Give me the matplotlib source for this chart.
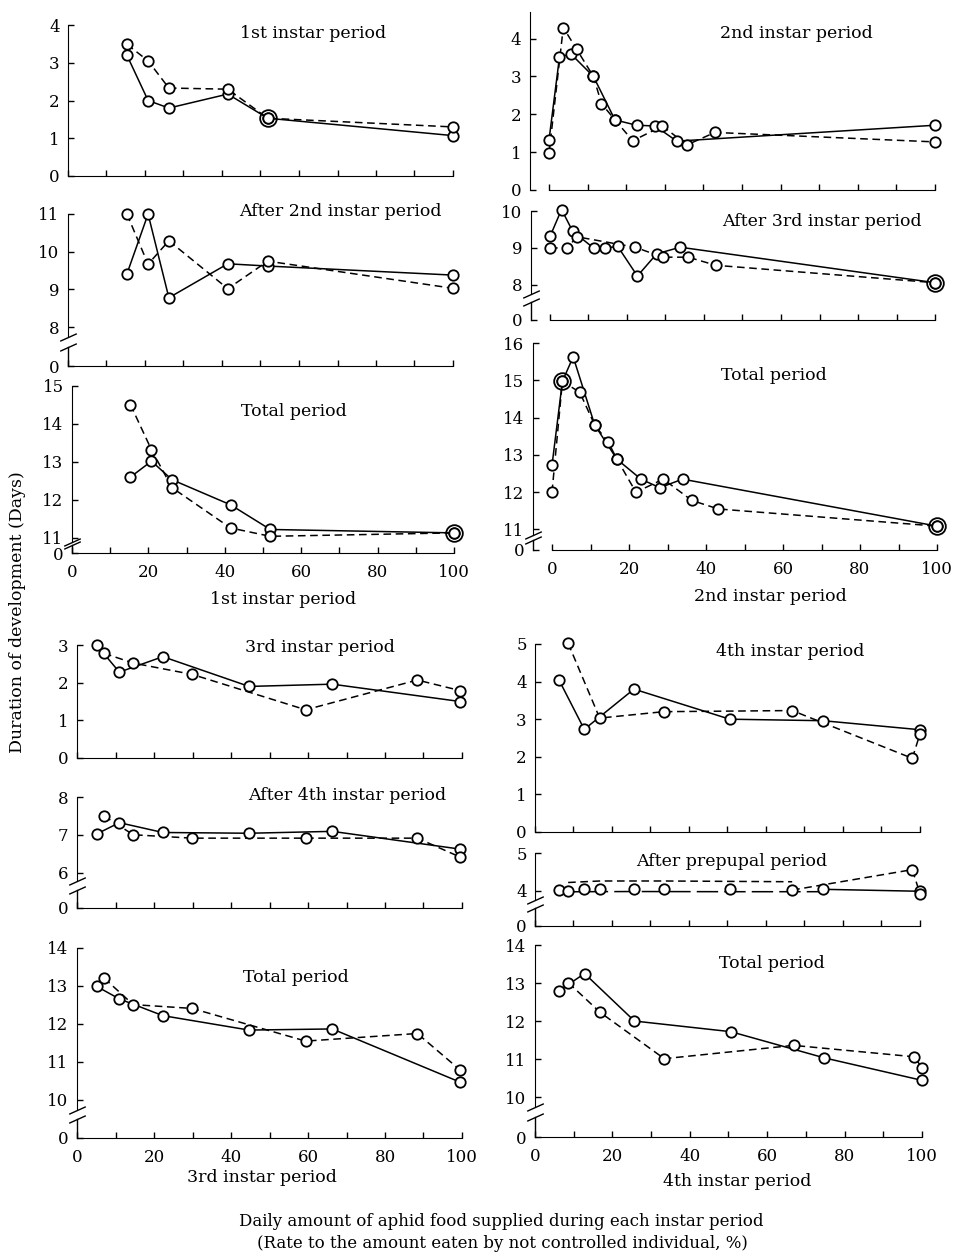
import numpy as np
import matplotlib.pyplot as plt

plt.rcParams['font.family'] = 'DejaVu Serif'
plt.rcParams['font.size'] = 12

# ---- 1st instar feeding ----
in1_x = [15.3, 20.8, 26.2, 41.5, 51.9, 100]
in1_stage_solid = [3.2, 2.0, 1.8, 2.17, 1.53, 1.07]
in1_stage_dash = [3.49, 3.05, 2.33, 2.3, 1.53, 1.3]
in1_stage_shared = [(51.9, 1.53)]
in1_after_solid = [9.41, 11.0, 8.78, 9.68, 9.62, 9.38]
in1_after_dash = [11.0, 9.67, 10.29, 9.02, 9.75, 9.03]
in1_total_solid = [12.6, 13.02, 12.53, 11.87, 11.22, 11.13]
in1_total_dash = [14.51, 13.32, 12.32, 11.26, 11.04, 11.13]
in1_total_shared = [(100, 11.13)]

# ---- 2nd instar feeding ----
in2_stage_x_solid = [0, 2.7, 5.6, 11.5, 17.1, 22.7, 27.5, 33.1, 100]
in2_stage_solid = [1.32, 3.5, 3.6, 3.0, 1.85, 1.71, 1.69, 1.29, 1.71]
in2_stage_x_dash = [0, 3.7, 7.2, 11.5, 13.6, 17.1, 21.7, 29.4, 35.7, 43.0, 100]
in2_stage_dash = [0.97, 4.29, 3.71, 3.0, 2.28, 1.85, 1.3, 1.69, 1.19, 1.52, 1.27]
in2_after_x_solid = [0, 3.0, 5.9, 11.3, 14.3, 17.6, 22.7, 27.7, 33.8, 100]
in2_after_solid = [9.31, 10.04, 9.45, 9.0, 9.0, 9.04, 8.24, 8.84, 9.02, 8.06]
in2_after_x_dash = [0, 4.3, 7.1, 22.1, 29.3, 35.9, 43.1, 100]
in2_after_dash = [9.0, 9.0, 9.3, 9.02, 8.75, 8.75, 8.53, 8.06]
in2_after_shared = [(100, 8.06)]
in2_total_x_solid = [0, 2.7, 5.5, 11.1, 16.9, 23.1, 28.0, 33.9, 100]
in2_total_solid = [12.72, 14.97, 15.63, 13.8, 12.88, 12.35, 12.12, 12.35, 11.09]
in2_total_x_dash = [0, 2.7, 7.2, 11.1, 14.6, 16.9, 21.8, 28.9, 36.3, 43.2, 100]
in2_total_dash = [12.0, 14.97, 14.68, 13.8, 13.34, 12.88, 12.0, 12.35, 11.78, 11.55, 11.09]
in2_total_shared = [(2.7, 14.97), (100, 11.09)]

# ---- 3rd instar feeding ----
in3_x_solid = [5.1, 11.0, 22.3, 44.7, 66.3, 99.5]
in3_x_dash = [7.0, 14.6, 29.9, 59.4, 88.4, 99.5]
in3_stage_solid = [3.0, 2.28, 2.69, 1.9, 1.96, 1.5]
in3_stage_dash = [2.78, 2.52, 2.22, 1.28, 2.07, 1.79]
in3_after_solid = [7.02, 7.32, 7.06, 7.04, 7.09, 6.62]
in3_after_dash = [7.5, 7.0, 6.91, 6.91, 6.91, 6.41]
in3_total_solid = [12.99, 12.66, 12.22, 11.84, 11.87, 10.47]
in3_total_dash = [13.21, 12.51, 12.41, 11.55, 11.75, 10.79]

# ---- 4th instar feeding ----
in4_x_solid = [6.3, 12.8, 25.7, 50.6, 74.8, 100]
in4_x_dash = [8.6, 16.8, 33.4, 66.8, 98.0, 100]
in4_stage_solid = [4.03, 2.73, 3.8, 3.0, 2.96, 2.72]
in4_stage_dash = [5.02, 3.03, 3.2, 3.23, 1.96, 2.61]
in4_after_solid = [4.02, 4.04, 4.06, 4.04, 4.04, 3.95]
in4_after_dash = [4.0, 4.04, 4.04, 4.02, 4.56, 3.67]
in4_total_solid = [12.8, 13.25, 12.0, 11.72, 11.03, 10.44]
in4_total_dash = [13.01, 12.23, 11.01, 11.36, 11.06, 10.77]

titles = ['1st instar period', 'After 2nd instar period', 'Total period',
          '2nd instar period', 'After 3rd instar period', 'Total period',
          '3rd instar period', 'After 4th instar period', 'Total period',
          '4th instar period', 'After prepupal period', 'Total period']
xlabels = ['1st instar period', '2nd instar period', '3rd instar period', '4th instar period']

W, H = 954, 1258
fig = plt.figure(figsize=(W / 100, H / 100), dpi=100)

# panel layout in pixels: x at 0, x at 100, y=0 row, top row, left limit, y-axis setup
panels = [
    # x0, x1, ybot, ytop, xmin, lo, gap, top, title pos
    dict(x0=68, x1=453, yb=176, yt=25, xmin=0, lo=None, gap=0, top=4,
         xs=in1_x, ys=in1_stage_solid, xd=in1_x, yd=in1_stage_dash,
         shared=in1_stage_shared, tpos=(313, 33)),
    dict(x0=68, x1=453, yb=366, yt=214, xmin=0, lo=8, gap=1.03, top=11,
         xs=in1_x, ys=in1_after_solid, xd=in1_x, yd=in1_after_dash,
         shared=[], tpos=(340, 211)),
    dict(x0=72, x1=454, yb=553, yt=386, xmin=0, lo=11, gap=0.4, top=15,
         xs=in1_x, ys=in1_total_solid, xd=in1_x, yd=in1_total_dash,
         shared=in1_total_shared, tpos=(294, 412), xlab=(283, 600)),
    dict(x0=549, x1=935, yb=190, yt=12, xmin=-5, lo=None, gap=0, top=4.7,
         xs=in2_stage_x_solid, ys=in2_stage_solid, xd=in2_stage_x_dash, yd=in2_stage_dash,
         shared=[], tpos=(796, 33)),
    dict(x0=550, x1=935, yb=320, yt=211, xmin=-5, lo=8, gap=0.95, top=10,
         xs=in2_after_x_solid, ys=in2_after_solid, xd=in2_after_x_dash, yd=in2_after_dash,
         shared=in2_after_shared, tpos=(822, 222)),
    dict(x0=552, x1=937, yb=550, yt=343, xmin=-5, lo=11, gap=0.55, top=16,
         xs=in2_total_x_solid, ys=in2_total_solid, xd=in2_total_x_dash, yd=in2_total_dash,
         shared=in2_total_shared, tpos=(774, 375), xlab=(770, 597)),
    dict(x0=77, x1=462, yb=758, yt=645, xmin=0, lo=None, gap=0, top=3,
         xs=in3_x_solid, ys=in3_stage_solid, xd=in3_x_dash, yd=in3_stage_dash,
         shared=[], tpos=(320, 647)),
    dict(x0=77, x1=462, yb=908, yt=797, xmin=0, lo=6, gap=0.94, top=8,
         xs=in3_x_solid, ys=in3_after_solid, xd=in3_x_dash, yd=in3_after_dash,
         shared=[], tpos=(347, 795)),
    dict(x0=77, x1=462, yb=1138, yt=948, xmin=0, lo=10, gap=1.0, top=14,
         xs=in3_x_solid, ys=in3_total_solid, xd=in3_x_dash, yd=in3_total_dash,
         shared=[], tpos=(296, 977), xlab=(262, 1177)),
    dict(x0=535, x1=920, yb=832, yt=644, xmin=0, lo=None, gap=0, top=5,
         xs=in4_x_solid, ys=in4_stage_solid, xd=in4_x_dash, yd=in4_stage_dash,
         shared=[], tpos=(790, 651)),
    dict(x0=535, x1=920, yb=926, yt=853, xmin=0, lo=4, gap=0.93, top=5,
         xs=in4_x_solid, ys=in4_after_solid, xd=in4_x_dash, yd=in4_after_dash,
         shared=[], tpos=(732, 862), offset=True),
    dict(x0=535, x1=922, yb=1137, yt=945, xmin=0, lo=10, gap=1.05, top=14,
         xs=in4_x_solid, ys=in4_total_solid, xd=in4_x_dash, yd=in4_total_dash,
         shared=[], tpos=(772, 963), xlab=(737, 1182)),
]

line_kw = dict(color='black', lw=1.1, clip_on=False, zorder=2)
dash_ls = (0, (5, 3))
mark_kw = dict(ls='none', marker='o', ms=7.5, mfc='white', mec='black', mew=1.3,
               clip_on=False, zorder=4)

xl_i = 0
for i, p in enumerate(panels):
    left = p['x0'] + p['xmin'] * (p['x1'] - p['x0']) / 100
    ax = fig.add_axes([left / W, 1 - p['yb'] / H, (p['x1'] - left) / W, (p['yb'] - p['yt']) / H])
    lo, gap = p['lo'], p['gap']
    if lo is not None:
        def fwd(y, lo=lo, gap=gap):
            y = np.asarray(y, dtype=float)
            return np.where(y < lo, y / lo * gap, y - lo + gap)

        def inv(u, lo=lo, gap=gap):
            u = np.asarray(u, dtype=float)
            return np.where(u < gap, u / gap * lo, u + lo - gap)
        ax.set_yscale('function', functions=(fwd, inv))
        yticks = [0] + list(range(lo, int(p['top']) + 1))
    else:
        yticks = list(range(0, int(p['top']) + 1))
    ax.set_ylim(0, p['top'])
    ax.set_xlim(p['xmin'], 100)
    ax.set_yticks(yticks)
    ax.set_yticklabels([str(t) for t in yticks])
    ax.set_xticks(range(0, 101, 20))
    ax.set_xticks(range(10, 100, 20), minor=True)
    for s in ['top', 'right']:
        ax.spines[s].set_visible(False)
    ax.spines['bottom'].set_bounds(0, 100)
    ax.patch.set_alpha(0)
    is_bottom = 'xlab' in p
    ax.tick_params(which='both', direction='in', length=4, width=1, pad=6,
                   labelbottom=is_bottom)
    ax.tick_params(axis='x', pad=8)

    # broken y axis: stub near zero, gap, slanted marks
    if lo is not None:
        ax.spines['left'].set_bounds(0.75 * lo, p['top'])
        ax.plot([p['xmin'], p['xmin']], [0, 0.5 * lo], color='black', lw=1,
                clip_on=False, zorder=3)
        ax.plot([p['xmin'], p['xmin']], [0.5 * lo, 0.75 * lo], ls='none',
                marker=[(-1, -0.45), (1, 0.45)], ms=12, mec='black', mew=1,
                clip_on=False, zorder=3)

    xs, ys, xd, yd = p['xs'], p['ys'], p['xd'], p['yd']
    if p.get('offset'):
        # flat runs are drawn just below / above the points
        ax.plot(xs[:5], np.array(ys[:5]) - 0.14, ls=(0, (14, 4)), **line_kw)
        ax.plot(xs[4:], ys[4:], **line_kw)
        ax.plot(xd[:4], np.array(yd[:4]) + 0.22, ls=dash_ls, **line_kw)
        ax.plot(xd[3:], yd[3:], ls=dash_ls, **line_kw)
    else:
        ax.plot(xs, ys, **line_kw)
        ax.plot(xd, yd, ls=dash_ls, **line_kw)
    ax.plot(xs, ys, **mark_kw)
    ax.plot(xd, yd, **mark_kw)
    for sx, sy in p['shared']:
        ax.plot([sx], [sy], ls='none', marker='o', ms=12, mfc='none', mec='black',
                mew=1.3, clip_on=False, zorder=5)

    fig.text(p['tpos'][0] / W, 1 - p['tpos'][1] / H, titles[i], ha='center',
             va='center', fontsize=12.5)
    if is_bottom:
        fig.text(p['xlab'][0] / W, 1 - p['xlab'][1] / H, xlabels[xl_i], ha='center',
                 va='center', fontsize=12.5)
        xl_i += 1

fig.text(18 / W, 1 - 612 / H, 'Duration of development (Days)', rotation=90,
         ha='center', va='center', fontsize=12.5)
fig.text(501 / W, 1 - 1222 / H,
         'Daily amount of aphid food supplied during each instar period',
         ha='center', va='center', fontsize=12)
fig.text(502 / W, 1 - 1243 / H,
         '(Rate to the amount eaten by not controlled individual, %)',
         ha='center', va='center', fontsize=12)

fig.savefig('out.png', dpi=100)
